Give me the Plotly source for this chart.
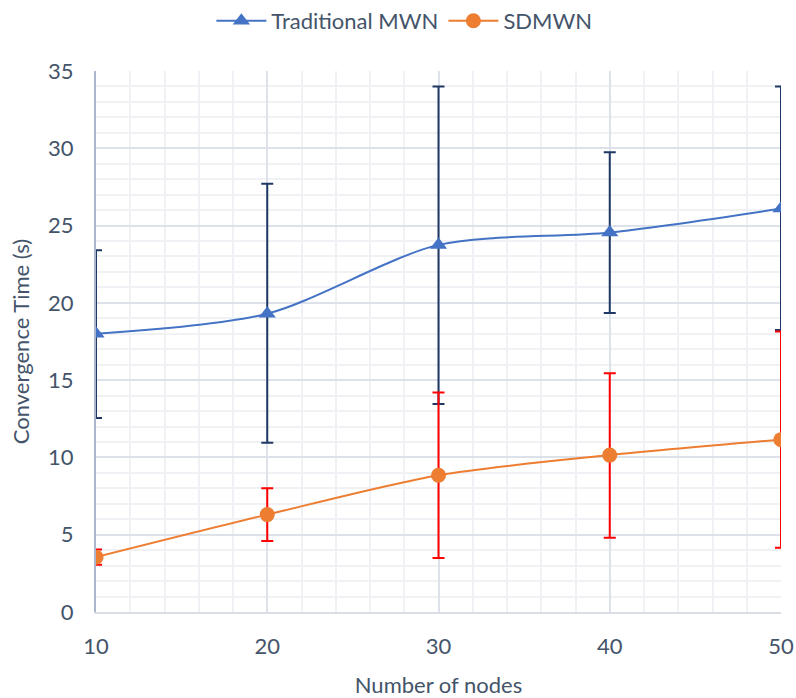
import plotly.graph_objects as go

nodes = [10, 20, 30, 40, 50]
trad = [18.0, 19.3, 23.75, 24.55, 26.1]
trad_err_plus = [5.4, 8.4, 10.25, 5.2, 7.9]
trad_err_minus = [5.45, 8.35, 10.3, 5.2, 7.85]
sdm = [3.55, 6.3, 8.85, 10.15, 11.15]
sdm_err_plus = [0.5, 1.7, 5.35, 5.3, 7.0]
sdm_err_minus = [0.5, 1.7, 5.35, 5.35, 7.0]

FONT = "Lato, 'Open Sans', sans-serif"
TXT = "#44546A"

fig = go.Figure()
fig.add_trace(go.Scatter(
    x=nodes, y=trad, name="Traditional MWN", mode="lines+markers",
    line=dict(color="#4472C4", width=2, shape="spline", smoothing=0.8),
    marker=dict(symbol="triangle-up", size=15, color="#4472C4"),
    error_y=dict(type="data", symmetric=False, array=trad_err_plus,
                 arrayminus=trad_err_minus, color="#1F3864", thickness=2, width=6),
))
fig.add_trace(go.Scatter(
    x=nodes, y=sdm, name="SDMWN", mode="lines+markers",
    line=dict(color="#ED7D31", width=2, shape="spline", smoothing=0.8),
    marker=dict(symbol="circle", size=15, color="#ED7D31"),
    error_y=dict(type="data", symmetric=False, array=sdm_err_plus,
                 arrayminus=sdm_err_minus, color="#FF0000", thickness=2, width=6),
))

fig.update_layout(
    width=796, height=698,
    margin=dict(l=96, r=15, t=71, b=86),
    paper_bgcolor="white", plot_bgcolor="white",
    font=dict(family=FONT, size=22, color=TXT),
    legend=dict(orientation="h", xref="container", x=0.508, xanchor="center",
                y=1.0, yanchor="top", yref="container",
                font=dict(size=22, color=TXT), itemwidth=50),
    showlegend=True,
)
fig.update_xaxes(
    range=[10, 50], tickvals=[10, 20, 30, 40, 50], showgrid=True,
    gridcolor="#DDE2EA", gridwidth=1.5,
    minor=dict(dtick=2, tick0=10, showgrid=True, gridcolor="#EFF1F5", gridwidth=1.5),
    showline=True, linecolor="#D9DEE6", linewidth=2, zeroline=False,
    ticks="", tickfont=dict(size=22, color=TXT), ticklabelstandoff=14,
    automargin=False,
    title=dict(text="Number of nodes", font=dict(size=22, color=TXT), standoff=21),
)
fig.update_yaxes(
    range=[0, 35], dtick=5, showgrid=True, gridcolor="#DDE2EA", gridwidth=1.5,
    minor=dict(dtick=1, showgrid=True, gridcolor="#EFF1F5", gridwidth=1.5),
    showline=True, linecolor="#A9B6CC", linewidth=2, zeroline=False,
    ticks="", tickfont=dict(size=22, color=TXT), ticklabelstandoff=16,
    automargin=False,
    title=dict(text="Convergence Time (s)", font=dict(size=22, color=TXT), standoff=12),
)

fig.write_html("out.html")
